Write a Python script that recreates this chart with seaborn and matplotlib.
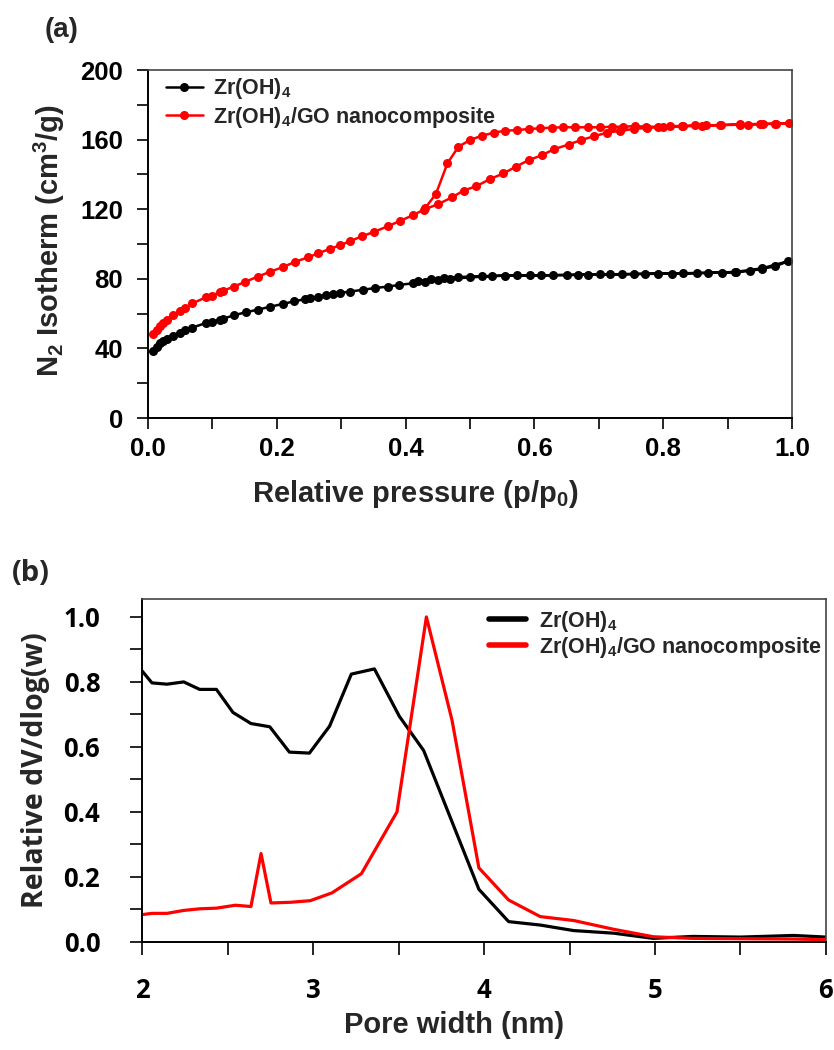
import numpy as np
import pandas as pd
import matplotlib.pyplot as plt
import seaborn as sns
from matplotlib.ticker import MultipleLocator

plt.switch_backend('Agg')

# (a) N2 isotherm, adsorption then desorption branch (loop order)
zr_p = [0.007, 0.0135, 0.019, 0.024, 0.029, 0.038, 0.05, 0.058, 0.069, 0.09, 0.099, 0.112,
        0.117, 0.133, 0.152, 0.171, 0.19, 0.21, 0.227, 0.244, 0.252, 0.264, 0.277, 0.288,
        0.298, 0.314, 0.334, 0.352, 0.372, 0.39, 0.411, 0.43, 0.451, 0.469, 0.5, 0.534,
        0.573, 0.611, 0.65, 0.684, 0.717, 0.754, 0.792, 0.831, 0.87, 0.911, 0.935, 0.953,
        0.974, 0.994,
        0.953, 0.913, 0.891, 0.852, 0.813, 0.772, 0.736, 0.702, 0.668, 0.629, 0.593, 0.554,
        0.518, 0.482, 0.46, 0.44, 0.42]
zr_v = [38.7, 41.0, 42.9, 44.3, 45.6, 47.4, 49.1, 50.3, 52.0, 54.6, 55.4, 56.5,
        57.1, 59.0, 60.8, 62.3, 64.0, 65.6, 67.1, 68.3, 68.9, 69.8, 70.8, 71.4,
        71.9, 72.7, 73.7, 74.7, 75.5, 76.5, 77.4, 78.4, 79.3, 80.0, 80.8, 81.6,
        82.0, 82.0, 82.2, 82.4, 82.6, 82.8, 83.0, 83.2, 83.5, 83.8, 84.5, 85.7,
        87.2, 90.1,
        86.0, 84.0, 83.6, 83.2, 83.0, 82.8, 82.6, 82.5, 82.3, 82.1, 82.0, 81.8,
        81.5, 81.0, 80.6, 79.8, 78.6]

go_p = [0.008, 0.0135, 0.019, 0.024, 0.029, 0.038, 0.049, 0.058, 0.069, 0.09, 0.099, 0.111,
        0.117, 0.133, 0.151, 0.17, 0.19, 0.209, 0.228, 0.248, 0.264, 0.283, 0.298, 0.314,
        0.332, 0.351, 0.373, 0.392, 0.411, 0.428, 0.451, 0.472, 0.49, 0.51, 0.531, 0.552,
        0.571, 0.591, 0.612, 0.63, 0.653, 0.673, 0.693, 0.713, 0.733, 0.754, 0.775, 0.8,
        0.83, 0.86, 0.89, 0.92, 0.95, 0.975, 0.996,
        0.974, 0.955, 0.932, 0.919, 0.888, 0.867, 0.849, 0.831, 0.811, 0.792, 0.773, 0.756,
        0.738, 0.72, 0.702, 0.684, 0.663, 0.645, 0.627, 0.609, 0.591, 0.573, 0.554, 0.537,
        0.518, 0.5, 0.482, 0.465, 0.447, 0.43]
go_v = [48.3, 50.6, 52.6, 54.5, 56.1, 59.0, 61.3, 63.4, 65.9, 69.4, 70.3, 72.3,
        73.2, 75.5, 78.3, 81.2, 84.1, 86.7, 89.7, 92.3, 94.6, 97.3, 99.2, 101.7,
        104.4, 107.0, 110.3, 113.4, 116.5, 119.7, 123.0, 126.8, 130.7, 133.3, 137.3, 140.6,
        144.4, 148.2, 151.1, 154.4, 157.2, 159.8, 162.0, 164.0, 165.1, 166.1, 166.8, 167.2,
        167.6, 168.0, 168.4, 168.8, 169.0, 169.2, 169.4,
        169.0, 169.0, 168.6, 168.6, 168.3, 168.3, 168.3, 167.8, 167.8, 167.4, 167.4, 167.8,
        167.4, 167.4, 167.1, 167.1, 167.1, 167.1, 166.9, 166.5, 166.1, 165.5, 165.1, 164.0,
        162.2, 159.8, 155.9, 146.4, 128.7, 120.5]

# (b) pore size distribution
zr_w = [2.0, 2.058, 2.146, 2.244, 2.337, 2.435, 2.532, 2.637, 2.747, 2.862, 2.979, 3.097,
        3.224, 3.359, 3.505, 3.647, 3.97, 4.144, 4.329, 4.524, 4.758, 4.99, 5.22, 5.5,
        5.81, 6.0]
zr_dv = [0.834, 0.797, 0.793, 0.80, 0.777, 0.777, 0.706, 0.672, 0.662, 0.584, 0.581, 0.664,
         0.824, 0.840, 0.694, 0.589, 0.162, 0.0625, 0.052, 0.035, 0.027, 0.011, 0.017, 0.015,
         0.02, 0.015]
go_w = [2.0, 2.058, 2.146, 2.244, 2.337, 2.435, 2.546, 2.637, 2.696, 2.754, 2.867, 2.984,
        3.111, 3.283, 3.491, 3.663, 3.813, 3.97, 4.144, 4.329, 4.524, 4.758, 4.99, 5.22,
        5.5, 5.81, 6.0]
go_dv = [0.084, 0.088, 0.088, 0.097, 0.102, 0.104, 0.113, 0.109, 0.272, 0.12, 0.122, 0.127,
         0.151, 0.21, 0.40, 1.0, 0.682, 0.228, 0.129, 0.078, 0.066, 0.039, 0.016, 0.011,
         0.01, 0.009, 0.007]

lab_zr = r'Zr(OH)$_\mathbf{4}$'
lab_go = r'Zr(OH)$_\mathbf{4}$/GO nanocomposite'

sns.set_style('ticks')
plt.rcParams['font.family'] = ['Liberation Sans', 'DejaVu Sans']
plt.rcParams['font.weight'] = 'bold'
plt.rcParams['mathtext.fontset'] = 'custom'
plt.rcParams['mathtext.bf'] = 'Liberation Sans:bold'
plt.rcParams['mathtext.rm'] = 'Liberation Sans:bold'
plt.rcParams['mathtext.default'] = 'bf'

fig = plt.figure(figsize=(8.34, 10.5), dpi=100)
ax1 = fig.add_axes([0.1775, 0.6019, 0.7721, 0.3314])
ax2 = fig.add_axes([0.1703, 0.1029, 0.8201, 0.3266])

# ---- (a)
sns.lineplot(x=zr_p, y=zr_v, sort=False, estimator=None, ax=ax1, color='black',
             marker='o', markersize=6.5, markeredgewidth=0, lw=1.8, label=lab_zr)
sns.lineplot(x=go_p, y=go_v, sort=False, estimator=None, ax=ax1, color='#ff0000',
             marker='o', markersize=6.5, markeredgewidth=0, lw=1.8, label=lab_go)
ax1.set_xlim(0, 1.0)
ax1.set_ylim(0, 200)
ax1.xaxis.set_minor_locator(MultipleLocator(0.1))
ax1.yaxis.set_minor_locator(MultipleLocator(20))
ax1.set_xticks([0, 0.2, 0.4, 0.6, 0.8, 1.0])
ax1.set_xticklabels(['0.0', '0.2', '0.4', '0.6', '0.8', '1.0'], fontsize=18.5,
                    fontweight='bold')
ax1.set_yticks([0, 40, 80, 120, 160, 200])
ax1.set_yticklabels(['0', '40', '80', '120', '160', '200'], fontsize=18.5,
                    fontweight='bold')
ax1.tick_params(which='both', direction='out', length=8, width=1.2, colors='black')
ax1.tick_params(axis='y', pad=10)
ax1.tick_params(axis='x', pad=6)
ax1.set_xlabel(r'Relative pressure (p/p$_\mathbf{0}$)', fontsize=21, fontweight='bold')
ax1.set_ylabel(r'N$_\mathbf{2}$ Isotherm (cm$^\mathbf{3}$/g)', fontsize=21,
               fontweight='bold')
ax1.xaxis.set_label_coords(0.415, -0.172)
ax1.yaxis.set_label_coords(-0.126, 0.51)
ax1.legend(loc='upper left', bbox_to_anchor=(0.018, 1.0), frameon=False, fontsize=15.5,
           handlelength=1.7, handletextpad=0.5, labelspacing=0.15, borderaxespad=0,
           borderpad=0.3)

# ---- (b)
sns.lineplot(x=zr_w, y=zr_dv, sort=False, estimator=None, ax=ax2, color='black',
             lw=2.3, label=lab_zr)
sns.lineplot(x=go_w, y=go_dv, sort=False, estimator=None, ax=ax2, color='#ff0000',
             lw=2.3, label=lab_go)
ax2.set_xlim(2, 6)
ax2.set_ylim(0, 1.055)
ax2.xaxis.set_minor_locator(MultipleLocator(0.5))
ax2.yaxis.set_minor_locator(MultipleLocator(0.1))
ax2.set_xticks([2, 3, 4, 5, 6])
ax2.set_xticklabels(['2', '3', '4', '5', '6'], family='Open Sans', fontsize=18.5,
                    fontweight='bold')
ax2.set_yticks([0, 0.2, 0.4, 0.6, 0.8, 1.0])
ax2.set_yticklabels(['0.0', '0.2', '0.4', '0.6', '0.8', '1.0'], family='Open Sans',
                    fontsize=18.5, fontweight='bold')
ax2.tick_params(which='both', direction='out', length=9, width=1.2, colors='black')
ax2.tick_params(axis='y', pad=21)
ax2.tick_params(axis='x', pad=16)
ax2.set_xlabel('Pore width (nm)', fontsize=21, fontweight='bold')
ax2.set_ylabel('Relative dV/dlog(w)', fontsize=20.5, fontweight='bold', family='Open Sans')
ax2.xaxis.set_label_coords(0.456, -0.2)
ax2.yaxis.set_label_coords(-0.134, 0.5)
leg2 = ax2.legend(loc='upper left', bbox_to_anchor=(0.498, 0.99), frameon=False,
                  fontsize=15.5, handlelength=1.7, handletextpad=0.6, labelspacing=0.05,
                  borderaxespad=0, borderpad=0.3)
for line in leg2.get_lines():
    line.set_linewidth(4)

for ax in (ax1, ax2):
    for side in ('left', 'bottom'):
        ax.spines[side].set_linewidth(1.4)
        ax.spines[side].set_color('black')
    for side in ('top', 'right'):
        ax.spines[side].set_visible(True)
        ax.spines[side].set_linewidth(1.2)
        ax.spines[side].set_color('#444444')

fig.text(0.054, 0.971, '(a)', fontsize=20, fontweight='bold', ha='left', va='center')
fig.text(0.014, 0.454, '(b)', fontsize=21, fontweight='bold', family='Open Sans',
         ha='left', va='center')

fig.savefig('out.png', dpi=100)
